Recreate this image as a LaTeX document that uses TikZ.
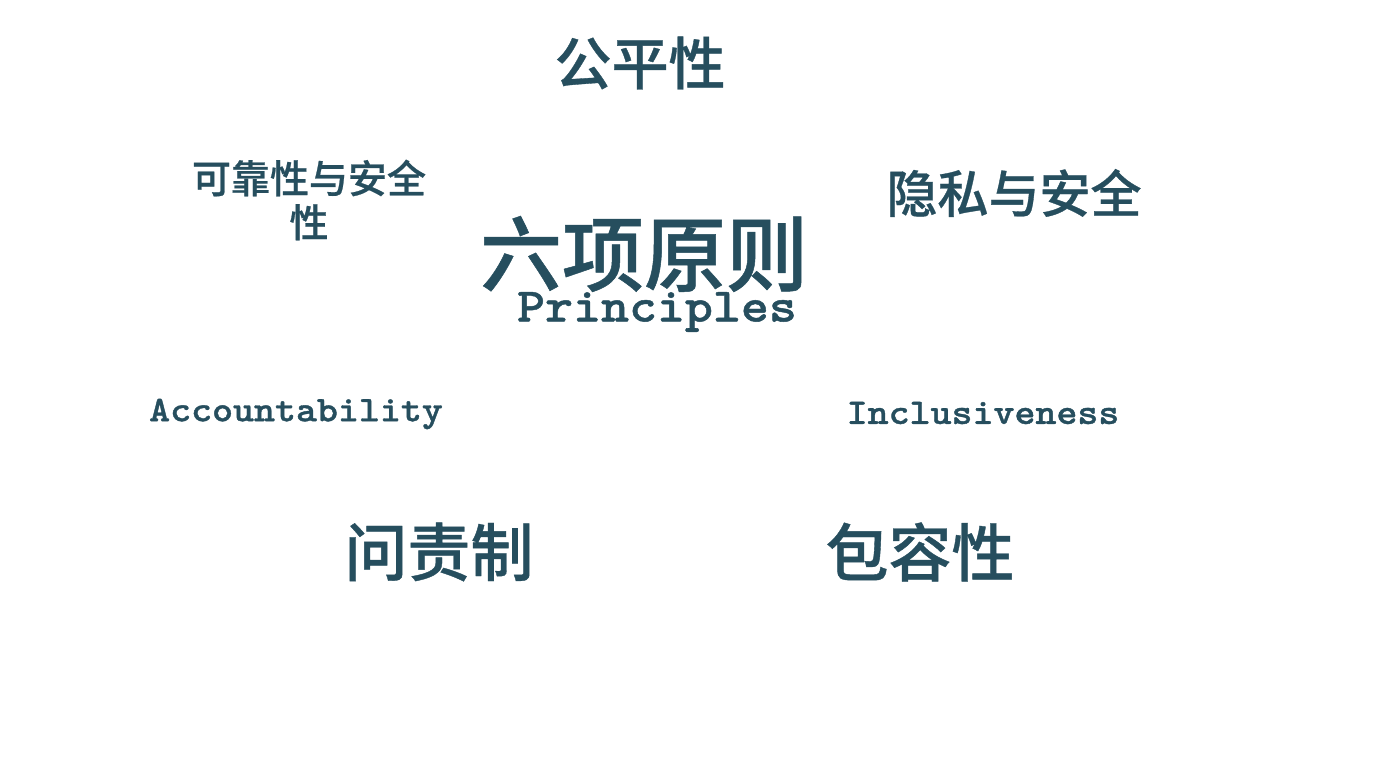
\documentclass[tikz,border=0pt]{standalone}
\usepackage{fontspec}
\newfontfamily\cjk{Noto Sans CJK SC Medium}[FakeBold=0.6]
\newfontfamily\mono{lmmonolt10-bold.otf}[FakeStretch=1.11,FakeBold=1]
\usetikzlibrary{positioning}
\definecolor{inkteal}{HTML}{264E5E}
\tikzset{zh/.style={text=inkteal,inner sep=0pt,font=\cjk\fontsize{#1}{#1}\selectfont},
	en/.style={text=inkteal,inner sep=0pt,font=\mono\fontsize{#1}{#1}\selectfont}}

\begin{document}
\begin{tikzpicture}[x=1pt,y=-1pt]
		\fill[white] (0,0) rectangle (1386,768);
		
		\node[zh=82] (title) at (644,254) {六项原则};
		\node[en=48] (sub) at (657,312) {Principles};
		
		\node[zh=57] (fair) at (640,63) {公平性};
		\node[zh=39,align=center,font=\cjk\fontsize{39}{44}\selectfont] (safe) at (309,200) {可靠性与安全\\性};
		\node[zh=51] (priv) at (1014,193) {隐私与安全};
		
		\node[en=36] (acc) at (296,414) {Accountability};
		\node[en=36] (inc) at (983,413) {Inclusiveness};
		
		\node[zh=63] (resp) at (439,552) {问责制};
		\node[zh=63] (incl) at (920,552) {包容性};
	\end{tikzpicture}
\end{document}
